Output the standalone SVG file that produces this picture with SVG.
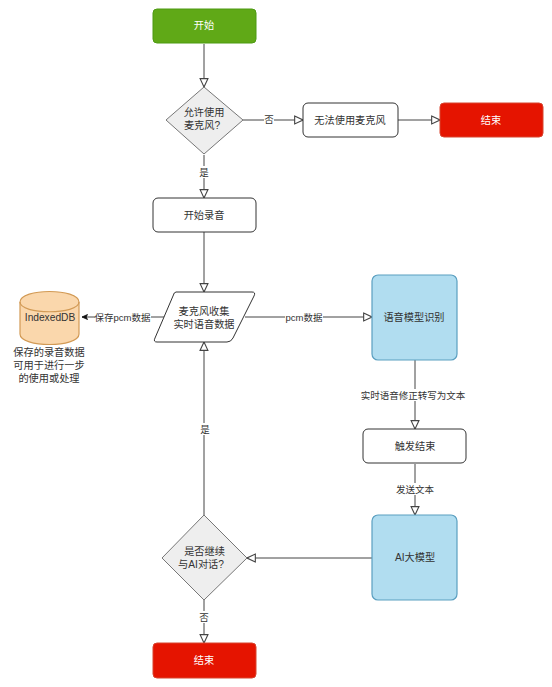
<svg xmlns="http://www.w3.org/2000/svg" width="552" height="687" viewBox="0 0 552 687">
<style>
text{font-family:"Liberation Sans","Noto Sans CJK SC",sans-serif;font-size:10.2px;fill:#333;text-anchor:middle;dominant-baseline:central}
.e{font-size:9.500px}
.w{fill:#fff}
.n{fill:#fff;stroke:#333;stroke-width:1}
.d{fill:#eee;stroke:#777;stroke-width:1}
.g{fill:#60a917;stroke:#4d9a12;stroke-width:1}
.r{fill:#e51400;stroke:#d8442f;stroke-width:1}
.b{fill:#b1ddf0;stroke:#5a9fc0;stroke-width:1.2}
.c{fill:none;stroke:#444;stroke-width:1;marker-end:url(#a)}
.l{fill:#fff;stroke:none}
</style>
<defs>
<marker id="a" markerUnits="userSpaceOnUse" markerWidth="10" markerHeight="10" refX="8" refY="4" orient="auto" viewBox="0 0 9 8"><path d="M0.5 0.5L8 4L0.5 7.500Z" fill="#fff" stroke="#444" stroke-width="1"/></marker>
<marker id="k" markerUnits="userSpaceOnUse" markerWidth="7" markerHeight="7" refX="6" refY="3" orient="auto" viewBox="0 0 7 6"><path d="M0.5 0.500L6 3L0.500 5.500L1.800 3Z" fill="#111" stroke="#111" stroke-width="0.800"/></marker>
</defs>
<g id="connectors">
<path class="c" d="M204 44V87"/>
<path class="c" d="M204 155V198"/>
<path class="c" d="M243 120H303"/>
<path class="c" d="M398 120H440"/>
<path class="c" d="M204 232V292"/>
<path class="c" d="M245 317H372"/>
<path class="c" style="marker-end:url(#k)" d="M165 317H82"/>
<path class="c" d="M415 360V429"/>
<path class="c" d="M415 464V515"/>
<path class="c" d="M372 558H247"/>
<path class="c" d="M204 515V342"/>
<path class="c" d="M204 600V643"/>
<rect class="l" x="264" y="113" width="10" height="14"/>
<rect class="l" x="198" y="166" width="12" height="12"/>
<rect class="l" x="95" y="311" width="56" height="12"/>
<rect class="l" x="285" y="311" width="38" height="12"/>
<rect class="l" x="361" y="389" width="105" height="12"/>
<rect class="l" x="396" y="483" width="39" height="12"/>
<rect class="l" x="198" y="423" width="12" height="12"/>
<rect class="l" x="198" y="611" width="12" height="12"/>
<text class="e" x="269" y="119">否</text>
<text class="e" x="204" y="172">是</text>
<text class="e" x="122.500" y="317.500">保存pcm数据</text>
<text class="e" x="304" y="317">pcm数据</text>
<text class="e" x="413" y="395">实时语音修正转写为文本</text>
<text class="e" x="415" y="489">发送文本</text>
<text class="e" x="205" y="429">是</text>
<text class="e" x="204" y="617">否</text>
</g>
<g id="start"><rect class="g" x="153" y="9" width="103" height="34" rx="4"/><text class="w" x="204" y="25">开始</text></g>
<g id="allow"><path class="d" d="M204 87L243 120L204 154L166 120Z"/><text x="204" y="112.500">允许使用</text><text x="202" y="125.500">麦克风?</text></g>
<g id="nomic"><rect class="n" x="303" y="103" width="95" height="34" rx="5"/><text x="350" y="120">无法使用麦克风</text></g>
<g id="end1"><rect class="r" x="440" y="103" width="103" height="34" rx="4"/><text class="w" x="491" y="120">结束</text></g>
<g id="record"><rect class="n" x="153" y="198" width="103" height="34" rx="5"/><text x="204" y="215">开始录音</text></g>
<g id="collect"><path class="n" d="M176 292H252Q256 292 254 296L233 338Q231 342 227 342H157Q153 342 155 338L173 296Q174 292 176 292Z"/><text x="204" y="311">麦克风收集</text><text x="204" y="324">实时语音数据</text></g>
<g id="db"><path d="M20 302C20 288 79 288 79 302V334C79 348 20 348 20 334Z" fill="#fad7ac" stroke="#d29a55" stroke-width="1.200"/><path d="M20 302C20 315 79 315 79 302" fill="none" stroke="#d29a55" stroke-width="1.200"/><text x="50" y="317">IndexedDB</text><text x="49" y="352">保存的录音数据</text><text x="49" y="365">可用于进行一步</text><text x="49" y="378">的使用或处理</text></g>
<g id="asr"><rect class="b" x="372" y="275" width="85" height="85" rx="6"/><text x="414" y="317">语音模型识别</text></g>
<g id="trigger"><rect class="n" x="363" y="429" width="103" height="34" rx="5"/><text x="415" y="446">触发结束</text></g>
<g id="ai"><rect class="b" x="372" y="515" width="85" height="85" rx="6"/><text x="415" y="557">AI大模型</text></g>
<g id="continue"><path class="d" d="M204 515L247 558L204 600L162 558Z"/><text x="204.500" y="551">是否继续</text><text x="201" y="564">与AI对话?</text></g>
<g id="end2"><rect class="r" x="153" y="643" width="103" height="35" rx="4"/><text class="w" x="204" y="660">结束</text></g>
</svg>
